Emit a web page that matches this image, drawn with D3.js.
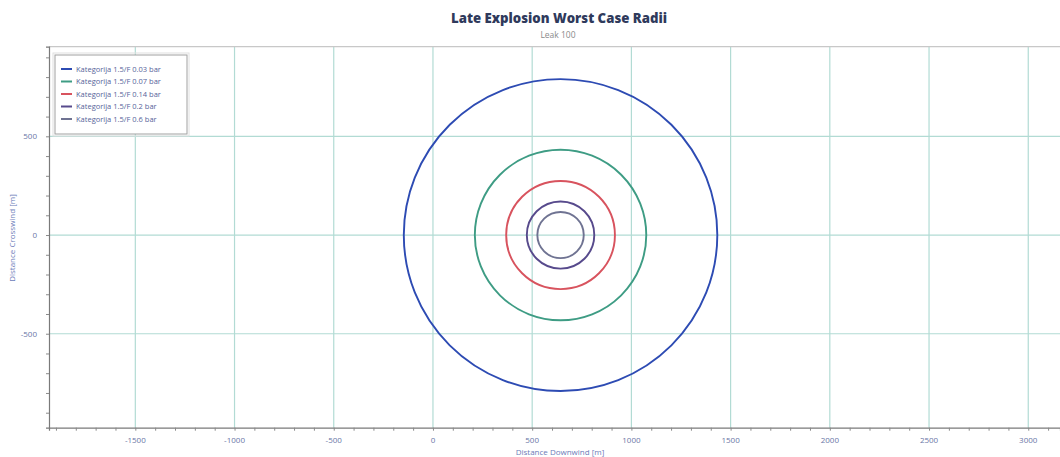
<!DOCTYPE html>
<html><head><meta charset="utf-8">
<script src="https://cdn.jsdelivr.net/npm/d3@7"></script>
<style>body{margin:0;background:#fff}svg{display:block}</style>
</head><body>
<svg id="c" width="1060" height="457"></svg>
<script>
const title = "Late Explosion Worst Case Radii";
const subtitle = "Leak 100";
const xLabel = "Distance Downwind [m]";
const yLabel = "Distance Crosswind [m]";
const seriesNames = ["Kategorija 1.5/F 0.03 bar","Kategorija 1.5/F 0.07 bar","Kategorija 1.5/F 0.14 bar","Kategorija 1.5/F 0.2 bar","Kategorija 1.5/F 0.6 bar"];
const radii = [790, 432, 274, 170, 117];
const centerX = [643, 643, 643, 643, 643];
const centerY = [0, 0, 0, 0, 0];
const colors = ["#2d4bb3","#3e9c84","#d8535e","#574a8c","#6f7392"];
const xTicks = [-1500,-1000,-500,0,500,1000,1500,2000,2500,3000];
const yTicks = [500,0,-500];
const xDomain = [-1935, 3160];
const yDomain = [-976, 954];

const svg = d3.select("#c");
const L=49, R=1060, T=46.7, B=427.7;
const x = d3.scaleLinear().domain(xDomain).range([L,R]);
const y = d3.scaleLinear().domain(yDomain).range([B,T]);

const gx = svg.append("g");
gx.selectAll("line.v").data(xTicks).join("line")
  .attr("x1",d=>x(d)).attr("x2",d=>x(d)).attr("y1",T).attr("y2",B)
  .attr("stroke","#b2dbd4").attr("stroke-width",1.2);
gx.selectAll("line.h").data(yTicks).join("line")
  .attr("x1",L).attr("x2",R).attr("y1",d=>y(d)).attr("y2",d=>y(d))
  .attr("stroke","#b2dbd4").attr("stroke-width",1.2);

svg.append("line").attr("x1",L).attr("x2",R).attr("y1",T).attr("y2",T).attr("stroke","#c8c8c8").attr("stroke-width",1.2);

const minorX = d3.range(-1900, 3160, 100);
const minorY = d3.range(-900, 954, 100);
const xa = svg.append("g").attr("transform",`translate(0,${B})`)
  .call(d3.axisBottom(x).tickValues(minorX).tickSize(3).tickFormat(""));
xa.select(".domain").attr("stroke","#7a7a7a").attr("stroke-width",1.2);
xa.selectAll(".tick line").attr("stroke","#8a8a8a");
const ya = svg.append("g").attr("transform",`translate(${L},0)`)
  .call(d3.axisLeft(y).tickValues(minorY).tickSize(3).tickFormat(""));
ya.select(".domain").attr("stroke","#7a7a7a").attr("stroke-width",1.2);
ya.selectAll(".tick line").attr("stroke","#8a8a8a");

const lblColor = "#6a76a6";
svg.append("g").selectAll("text").data(xTicks).join("text")
  .attr("x",d=>x(d)).attr("y",443).attr("text-anchor","middle")
  .attr("font-family","Open Sans, sans-serif").attr("font-size",8).attr("fill",lblColor)
  .text(d=>d);
svg.append("g").selectAll("text").data(yTicks).join("text")
  .attr("x",37).attr("y",d=>y(d)+3).attr("text-anchor","end")
  .attr("font-family","Open Sans, sans-serif").attr("font-size",8).attr("fill",lblColor)
  .text(d=>d);

svg.append("g").selectAll("ellipse").data(radii).join("ellipse")
  .attr("cx",(d,i)=>x(centerX[i])).attr("cy",(d,i)=>y(centerY[i]))
  .attr("rx",(d,i)=>x(centerX[i]+d)-x(centerX[i]))
  .attr("ry",(d,i)=>y(centerY[i])-y(centerY[i]+d))
  .attr("fill","none").attr("stroke",(d,i)=>colors[i]).attr("stroke-width",1.9);

svg.append("text").attr("x",559).attr("y",23).attr("text-anchor","middle")
  .attr("font-family","Open Sans, sans-serif").attr("font-weight",800).attr("font-size",14)
  .attr("fill","#2f3a5c").attr("textLength",216).attr("lengthAdjust","spacingAndGlyphs").text(title);
svg.append("text").attr("x",558).attr("y",38).attr("text-anchor","middle")
  .attr("font-family","Open Sans, sans-serif").attr("font-size",8.5).attr("fill","#8a8a8a").text(subtitle);
svg.append("text").attr("x",560).attr("y",455).attr("text-anchor","middle")
  .attr("font-family","Open Sans, sans-serif").attr("font-size",8).attr("fill","#6b7bb8").text(xLabel);
svg.append("text").attr("transform","translate(15,238) rotate(-90)").attr("text-anchor","middle")
  .attr("font-family","Open Sans, sans-serif").attr("font-size",8).attr("fill","#6b7bb8").text(yLabel);

const lg = svg.append("g");
lg.append("rect").attr("x",55).attr("y",55).attr("width",132).attr("height",79)
  .attr("fill","#fff").attr("stroke","#a0a0a0").attr("stroke-width",1);
lg.append("rect").attr("x",53).attr("y",53).attr("width",136).attr("height",83)
  .attr("fill","none").attr("stroke","#e0e0e0").attr("stroke-width",1);
const rows = lg.selectAll("g.r").data(seriesNames).join("g")
  .attr("transform",(d,i)=>`translate(0,${69+i*12.5})`);
rows.append("line").attr("x1",61).attr("x2",72).attr("y1",0).attr("y2",0)
  .attr("stroke",(d,i)=>colors[i]).attr("stroke-width",2);
rows.append("text").attr("x",76).attr("y",2.8)
  .attr("font-family","Open Sans, sans-serif").attr("font-size",7.5).attr("fill","#56639a").text(d=>d);
</script>
</body></html>
